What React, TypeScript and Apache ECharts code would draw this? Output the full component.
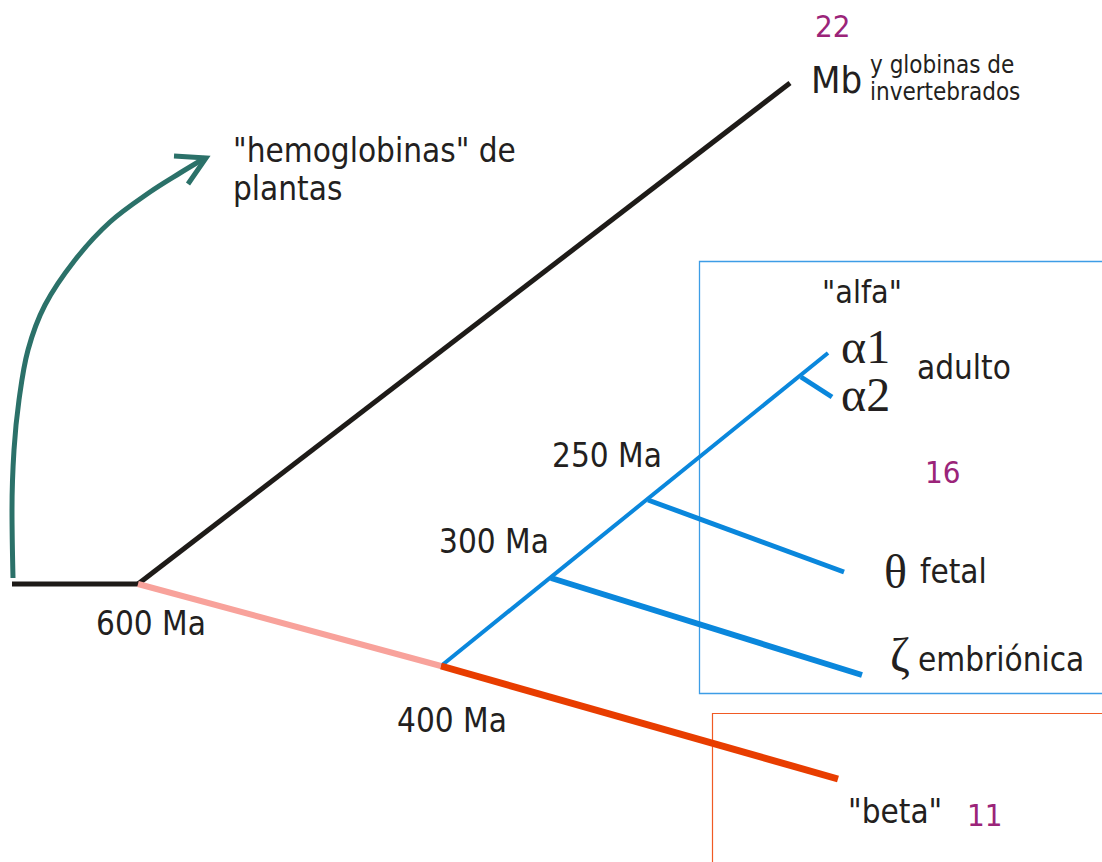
import React, { useEffect, useRef } from "react";
import * as echarts from "echarts";

// Tree branches (coordinates in the chart's own 0..1102 x 0..862 space)
const rootStem = [[12, 584], [138, 584]];
const mbBranch = [[138, 584], [790, 83]];
const preBranch = [[138, 584], [441, 666]];
const betaBranch = [[441, 666], [838, 779]];
const alphaStem = [[441, 666], [828, 353]];
const alpha2Branch = [[801, 377], [832, 397]];
const thetaBranch = [[648, 500], [844, 572]];
const zetaBranch = [[551, 578], [862, 675]];
const plantArrow = [[13, 578], [12, 510], [14, 450], [19, 400], [28, 350], [45, 305], [75, 260], [110, 222], [150, 192], [180, 173], [205, 158]];
const arrowHead = [[174, 156], [206, 158], [188, 184]];

const timeLabels = ["600 Ma", "400 Ma", "300 Ma", "250 Ma"];
const geneCounts = ["22", "16", "11"];

const SANS = "'DejaVu Sans Condensed','DejaVu Sans',sans-serif";
const SERIF = "'Liberation Serif','DejaVu Serif',serif";
const INK = "#231f20";
const PURPLE = "#9b2479";

function seg(name: string, data: number[][], color: string, width: number, smooth: boolean | number = false) {
  return {
    name,
    type: "line",
    data,
    smooth,
    symbol: "none",
    silent: true,
    lineStyle: { color, width, cap: "butt", join: "miter" },
    z: 3,
  };
}

function txt(text: string, x: number, y: number, size: number, fill = INK, family = SANS) {
  return {
    type: "text",
    x,
    y,
    silent: true,
    style: { text, fill, font: `${size}px ${family}`, verticalAlign: "middle", align: "left" },
    z: 10,
  };
}

export default function App() {
  const ref = useRef<HTMLDivElement>(null);
  useEffect(() => {
    if (!ref.current) return;
    const chart = echarts.init(ref.current, null, { renderer: "svg" });
    chart.setOption({
      animation: false,
      backgroundColor: "#ffffff",
      grid: { left: 0, right: 0, top: 0, bottom: 0, containLabel: false },
      xAxis: { type: "value", min: 0, max: 1102, show: false },
      yAxis: { type: "value", min: 0, max: 862, inverse: true, show: false },
      series: [
        seg("arrow", plantArrow, "#2b7169", 5, 0.35),
        seg("arrowHead", arrowHead, "#2b7169", 5),
        seg("root", rootStem, "#1e1b18", 5),
        seg("Mb", mbBranch, "#1e1b18", 5),
        seg("alpha", alphaStem, "#0a87dc", 4),
        seg("alpha2", alpha2Branch, "#0a87dc", 5),
        seg("theta", thetaBranch, "#0a87dc", 5),
        seg("zeta", zetaBranch, "#0a87dc", 6),
        seg("pre", preBranch, "#f8a29b", 6),
        seg("beta", betaBranch, "#e83d00", 7),
      ],
      graphic: [
        { type: "rect", shape: { x: 699.5, y: 261.5, width: 420, height: 432 }, style: { fill: "none", stroke: "#3d9de6", lineWidth: 1.3 }, silent: true, z: 1 },
        { type: "rect", shape: { x: 712.5, y: 713.5, width: 420, height: 200 }, style: { fill: "none", stroke: "#f05a24", lineWidth: 1.2 }, silent: true, z: 1 },
        txt("\"hemoglobinas\" de", 233, 150, 33),
        txt("plantas", 233, 188, 33),
        txt(geneCounts[0], 815, 26, 31, PURPLE),
        txt("Mb", 811, 80, 38),
        txt("y globinas de", 870, 65, 24),
        txt("invertebrados", 870, 92, 24),
        txt("\"alfa\"", 822, 292, 32),
        txt("\u03b11", 841, 346, 48, INK, SERIF),
        txt("\u03b12", 841, 394, 48, INK, SERIF),
        txt("adulto", 917, 367, 33),
        txt(geneCounts[1], 925, 472, 31, PURPLE),
        txt(timeLabels[3], 552, 455, 33),
        txt(timeLabels[2], 439, 541, 33),
        txt(timeLabels[0], 96, 623, 33),
        txt(timeLabels[1], 397, 720, 33),
        txt("\u03b8", 884, 571, 48, INK, SERIF),
        txt("fetal", 920, 571, 33),
        txt("\u03b6", 890, 654, 48, INK, SERIF),
        txt("embriónica", 918, 659, 33),
        txt("\"beta\"", 848, 811, 33),
        txt(geneCounts[2], 967, 815, 31, PURPLE),
      ],
    });
    return () => chart.dispose();
  }, []);
  return <div ref={ref} style={{ position: "absolute", left: 0, top: 0, width: 1102, height: 862 }} />;
}
